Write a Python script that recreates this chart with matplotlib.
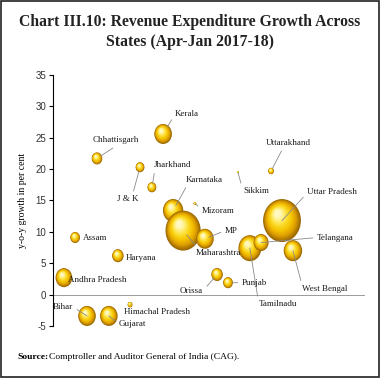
import numpy as np
import matplotlib
matplotlib.use("Agg")
from matplotlib import pyplot as plt
from matplotlib.colors import LinearSegmentedColormap
from matplotlib.transforms import offset_copy, Affine2D
from matplotlib.patches import Rectangle
from matplotlib.path import Path

# bubble chart data (x is only a placement position, no visible axis)
states = ["Kerala", "Chhattisgarh", "J & K", "Jharkhand", "Karnataka", "Maharashtra",
          "MP", "Mizoram", "Sikkim", "Uttarakhand", "Uttar Pradesh", "Tamilnadu",
          "Telangana", "West Bengal", "Orissa", "Punjab", "Assam", "Haryana",
          "Andhra Pradesh", "Bihar", "Gujarat", "Himachal Pradesh"]
xpos = [35.3, 14.1, 27.9, 31.7, 38.5, 41.7, 48.7, 45.5, 59.3, 69.9, 73.4, 63.1,
        66.7, 76.9, 52.6, 56.1, 7.1, 20.8, 3.5, 10.9, 17.9, 24.7]
growth = [25.6, 21.7, 20.3, 17.1, 13.4, 10.2, 8.9, 14.5, 19.5, 19.7, 11.8, 7.4,
          8.3, 7.0, 3.2, 1.9, 9.1, 6.2, 2.7, -3.4, -3.4, -1.6]
size = [10, 6, 5, 5, 11.5, 20, 10, 1.5, 1, 3.2, 21.5, 13,
        8.5, 10.5, 6.5, 5.5, 5.5, 6.5, 9.5, 10, 10, 2.7]

yticks = [-5, 0, 5, 10, 15, 20, 25, 30, 35]

# label offsets (points from bubble centre), ha, relpos of leader line, shrink, line?
labels = {
    "Kerala": ((8.6, 14.4), "left", (0, 0.5), 6, True),
    "Chhattisgarh": ((13.7, 13.0), "center", (0.55, 0), 3, True),
    "J & K": ((-8.6, -23), "center", (0.7, 1), 3, True),
    "Jharkhand": ((1.4, 15.8), "left", (0.03, 0), 3, True),
    "Karnataka": ((9.4, 22.3), "left", (0.05, 0), 4, True),
    "Mizoram": ((5, -5), "left", (0, 0.7), 0, True),
    "Sikkim": ((3.6, -13.7), "left", (0, 0.5), 0, True),
    "Uttarakhand": ((12.2, 20.2), "center", (0.4, 0), 2, True),
    "Uttar Pradesh": ((18, 20.9), "left", (0, 0.3), 0, True),
    "MP": ((14.4, 5.8), "left", (0, 0.5), 3, True),
    "Maharashtra": ((9.4, -15.8), "left", (0.05, 1), 4, True),
    "Telangana": ((40.3, 3.6), "left", (0, 0.5), 0, True),
    "West Bengal": ((6.5, -27.4), "left", (0, 1), 0, True),
    "Tamilnadu": ((6.5, -40.3), "left", (0, 0.5), 0, True),
    "Orissa": ((-10, -11.5), "right", (1, 0.5), 3, True),
    "Punjab": ((10, 0), "left", (0, 0.5), 3, True),
    "Assam": ((5.8, -0.7), "left", (0, 0.5), 0, False),
    "Haryana": ((5.8, -1.4), "left", (0, 0.5), 0, False),
    "Andhra Pradesh": ((2.9, -1.4), "left", (0, 0.5), 0, False),
    "Bihar": ((-10, 6.5), "right", (1, 0.5), 0, True),
    "Gujarat": ((7.2, -5.8), "left", (0, 0.5), 0, True),
    "Himachal Pradesh": ((-4.3, -5), "left", (0.05, 1), 0, True),
}

serif = "Liberation Serif"

fig = plt.figure(figsize=(3.8, 3.78), dpi=100)
ax = fig.add_axes([0.1395, 0.1376, 0.8210, 0.664])

ax.set_xlim(0, 100)
ax.set_ylim(-5, 35)
ax.set_yticks(yticks)
ax.set_yticklabels([str(t) for t in yticks], fontsize=7, family="Liberation Sans", color="#333333")
ax.tick_params(axis="y", length=3, width=0.8, pad=2)
ax.set_xticks([])
for s in ["top", "right", "bottom"]:
    ax.spines[s].set_visible(False)
ax.spines["left"].set_linewidth(0.8)
ax.axhline(0, color="#9a9a9a", lw=0.7, zorder=1)
ax.set_ylabel("y-o-y growth in per cent", fontsize=7, family=serif, labelpad=6)

cmap = LinearSegmentedColormap.from_list(
    "gold", ["#9c6a00", "#dc9c00", "#f4c000", "#fbd820", "#ffec70", "#fff8c0"])

# slightly tall ellipse marker
ell = Path.unit_circle().transformed(Affine2D().scale(0.88, 1.0))

nlayers = 14
for i, st in enumerate(states):
    r_pt = size[i] * 0.72
    for k in range(nlayers):
        t = k / (nlayers - 1)
        f = 1 - 0.82 * t
        tr = offset_copy(ax.transData, fig=fig, x=-0.2 * r_pt * t, y=0.32 * r_pt * t, units="points")
        ax.scatter([xpos[i]], [growth[i]], s=(2 * r_pt * f) ** 2, color=cmap(t), marker=ell,
                   edgecolors="none", transform=tr, zorder=3 + i * 0.01, clip_on=False)

for i, st in enumerate(states):
    off, ha, rp, sb, line = labels[st]
    ap = None
    if line:
        ap = dict(arrowstyle="-", color="#8a8a8a", lw=0.6, shrinkA=1, shrinkB=sb, relpos=rp)
    ax.annotate(st, xy=(xpos[i], growth[i]), xytext=off, textcoords="offset points",
                ha=ha, va="center", fontsize=6.5, family=serif, color="#1a1a1a",
                arrowprops=ap, zorder=5, annotation_clip=False)

fig.text(0.5, 0.942, "Chart III.10: Revenue Expenditure Growth Across",
         ha="center", va="center", fontsize=11.3, fontweight="bold", family=serif, color="#222222")
fig.text(0.5, 0.889, "States (Apr-Jan 2017-18)",
         ha="center", va="center", fontsize=11.3, fontweight="bold", family=serif, color="#222222")

fig.text(0.045, 0.055, "Source:", ha="left", va="center", fontsize=6.8, fontweight="bold", family=serif)
fig.text(0.128, 0.055, "Comptroller and Auditor General of India (CAG).", ha="left", va="center",
         fontsize=6.8, family=serif)

fig.patches.append(Rectangle((0.003, 0.003), 0.994, 0.994, transform=fig.transFigure,
                             fill=False, edgecolor="#222222", lw=1.2))

fig.savefig("out.png", dpi=100)
